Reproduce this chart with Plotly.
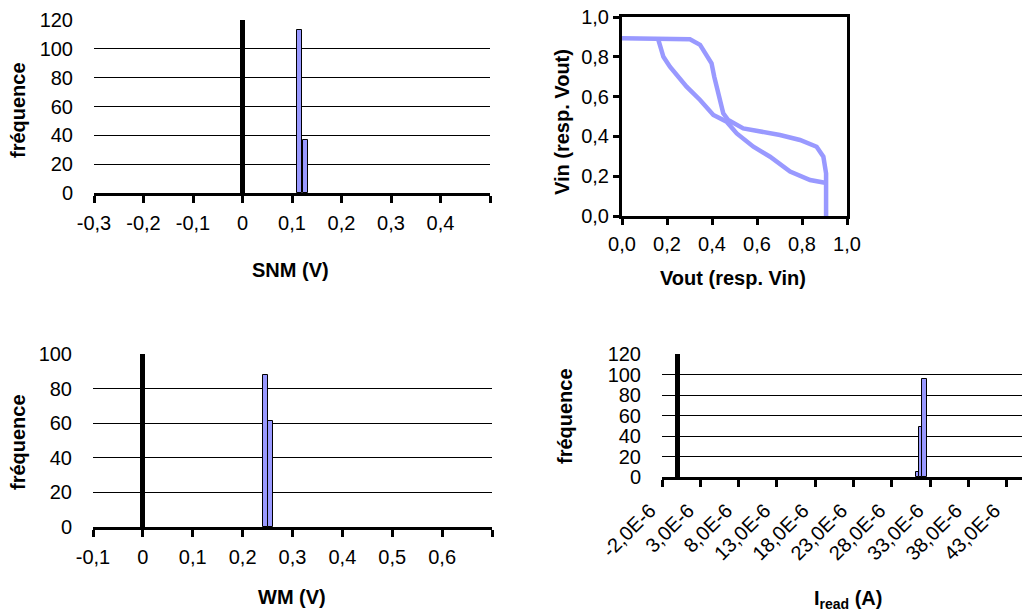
import plotly.graph_objects as go

# The page body has an 8px margin, so the figure is sized to the remaining view
OFF = 8
W, H = 1030 - OFF, 612 - OFF

# ---------------- data ----------------
# SNM histogram
snm_bins = [0.1155, 0.1265]
snm_freq = [113, 37]
snm_ticks = [-0.3, -0.2, -0.1, 0.0, 0.1, 0.2, 0.3, 0.4]
snm_ticktext = ["-0,3", "-0,2", "-0,1", "0", "0,1", "0,2", "0,3", "0,4"]
snm_tickmarks = [-0.3, -0.2, -0.1, 0.0, 0.1, 0.2, 0.3, 0.4, 0.5]
freq_ticks_120 = [0, 20, 40, 60, 80, 100, 120]
freq_ticks_100 = [0, 20, 40, 60, 80, 100]

# Butterfly curves
curveA_x = [0.0, 0.302, 0.347, 0.398, 0.41, 0.436, 0.45, 0.472, 0.539, 0.702, 0.791, 0.865, 0.895, 0.907, 0.907]
curveA_y = [0.893, 0.888, 0.86, 0.767, 0.70, 0.566, 0.516, 0.482, 0.44, 0.407, 0.382, 0.348, 0.298, 0.214, 0.0]
curveB_x = [0.161, 0.184, 0.213, 0.287, 0.347, 0.406, 0.465, 0.51, 0.584, 0.658, 0.747, 0.836, 0.902]
curveB_y = [0.888, 0.80, 0.75, 0.65, 0.583, 0.508, 0.474, 0.415, 0.348, 0.298, 0.223, 0.181, 0.167]
vtc_ticks = [0.0, 0.2, 0.4, 0.6, 0.8, 1.0]
vtc_ticktext = ["0,0", "0,2", "0,4", "0,6", "0,8", "1,0"]

# WM histogram
wm_bins = [0.2463, 0.2566]
wm_freq = [88, 61]
wm_ticks = [-0.1, 0.0, 0.1, 0.2, 0.3, 0.4, 0.5, 0.6]
wm_ticktext = ["-0,1", "0", "0,1", "0,2", "0,3", "0,4", "0,5", "0,6"]
wm_tickmarks = [-0.1, 0.0, 0.1, 0.2, 0.3, 0.4, 0.5, 0.6, 0.7]

# Iread histogram
iread_bins = [31.35e-6, 31.76e-6, 32.30e-6]
iread_freq = [5, 49, 96]
iread_ticks = [-2e-6, 3e-6, 8e-6, 13e-6, 18e-6, 23e-6, 28e-6, 33e-6, 38e-6, 43e-6]
iread_ticktext = ["-2,0E-6", "3,0E-6", "8,0E-6", "13,0E-6", "18,0E-6", "23,0E-6",
                  "28,0E-6", "33,0E-6", "38,0E-6", "43,0E-6"]

# ---------------- style ----------------
FONT = "Liberation Sans, Arial, sans-serif"
BAR = "#9999FF"
TF = dict(family=FONT, size=20, color="black")


def px_dom_x(a, b):
    return [max(0.0, (a - OFF) / W), min(1.0, (b - OFF) / W)]


def px_dom_y(top, bottom):
    return [1 - (bottom - OFF) / H, 1 - (top - OFF) / H]


fig = go.Figure()

fig.add_trace(go.Bar(x=snm_bins, y=snm_freq, width=0.0105, marker=dict(color=BAR, line=dict(color="black", width=1)),
                     xaxis="x", yaxis="y"))
fig.add_trace(go.Scatter(x=curveA_x, y=curveA_y, mode="lines", line=dict(color=BAR, width=4.5),
                         xaxis="x2", yaxis="y2"))
fig.add_trace(go.Scatter(x=curveB_x, y=curveB_y, mode="lines", line=dict(color=BAR, width=4.5),
                         xaxis="x2", yaxis="y2"))
fig.add_trace(go.Bar(x=wm_bins, y=wm_freq, width=0.0103, marker=dict(color=BAR, line=dict(color="black", width=1)),
                     xaxis="x3", yaxis="y3"))
fig.add_trace(go.Bar(x=iread_bins, y=iread_freq, width=[0.43e-6, 0.40e-6, 0.69e-6],
                     marker=dict(color=BAR, line=dict(color="black", width=1)),
                     xaxis="x4", yaxis="y4"))


def hist_x(dom, rng, tv, tt, marks=None, **kw):
    d = dict(domain=dom, range=rng, tickvals=tv, ticktext=tt, tickfont=TF,
             showline=True, linecolor="black", linewidth=3,
             ticks="outside", ticklen=7, tickwidth=3, tickcolor="black",
             showgrid=False, zeroline=True, zerolinecolor="black", zerolinewidth=5,
             ticklabelstandoff=3, fixedrange=True, automargin=False, ticklabeloverflow="allow")
    if marks is not None:
        d["minor"] = dict(tickvals=marks, ticks="outside", ticklen=7, tickwidth=3,
                          tickcolor="black", showgrid=False)
    d.update(kw)
    return d


def hist_y(dom, rng, tv, anchor):
    return dict(domain=dom, range=rng, tickvals=tv, tickfont=TF, anchor=anchor,
                showline=False, ticks="outside", ticklen=16, tickcolor="rgba(0,0,0,0)",
                showgrid=True, gridcolor="black", gridwidth=1.3, zeroline=False,
                fixedrange=True, automargin=False, ticklabeloverflow="allow")


fig.update_layout(
    width=W, height=H, autosize=False,
    margin=dict(l=0, r=0, t=0, b=0, pad=0, autoexpand=False),
    paper_bgcolor="white", plot_bgcolor="white",
    showlegend=False, bargap=0,
    font=dict(family=FONT, color="black"),
    xaxis=hist_x(px_dom_x(94, 490), [-0.3, 0.5], snm_ticks, snm_ticktext, snm_tickmarks, anchor="y"),
    yaxis=hist_y(px_dom_y(20, 193), [0, 120], freq_ticks_120, "x"),
    xaxis2=dict(domain=px_dom_x(622, 847), range=[0, 1], tickvals=vtc_ticks, ticktext=vtc_ticktext,
                tickfont=TF, anchor="y2", showline=True, mirror=True, linecolor="black", linewidth=3,
                ticks="outside", ticklen=6, tickwidth=2.5, tickcolor="black",
                showgrid=False, zeroline=False, ticklabelstandoff=2, automargin=False,
                ticklabeloverflow="allow"),
    yaxis2=dict(domain=px_dom_y(17, 216), range=[0, 1], tickvals=vtc_ticks, ticktext=vtc_ticktext,
                tickfont=TF, anchor="x2", showline=True, mirror=True, linecolor="black", linewidth=3,
                ticks="outside", ticklen=6, tickwidth=2.5, tickcolor="black",
                showgrid=False, zeroline=False, ticklabelstandoff=0, automargin=False,
                ticklabeloverflow="allow"),
    xaxis3=hist_x(px_dom_x(93, 492), [-0.1, 0.7], wm_ticks, wm_ticktext, wm_tickmarks, anchor="y3"),
    yaxis3=hist_y(px_dom_y(354, 527), [0, 100], freq_ticks_100, "x3"),
    xaxis4=hist_x(px_dom_x(662, 1030), [-2e-6, 46.05e-6], iread_ticks, iread_ticktext,
                  anchor="y4", tickangle=-45, ticklabelstandoff=4, ticklabelshift=-12),
    yaxis4=hist_y(px_dom_y(354, 477), [0, 120], freq_ticks_120, "x4"),
)

TT = dict(family=FONT, size=20, color="black")


def title(text, x, y, angle=0):
    fig.add_annotation(text=text, x=(x - OFF) / W, y=1 - (y - OFF) / H, xref="paper", yref="paper",
                       showarrow=False, textangle=angle, font=TT, xanchor="center", yanchor="middle")


title("<b>fréquence</b>", 18, 110, -90)
title("<b>SNM (V)</b>", 290, 270)
title("<b>Vin (resp. Vout)</b>", 562, 122, -90)
title("<b>Vout (resp. Vin)</b>", 733, 278)
title("<b>fréquence</b>", 18, 442, -90)
title("<b>WM (V)</b>", 292, 597)
title("<b>fréquence</b>", 565, 416, -90)
title("<b>I<sub>read</sub> (A)</b>", 848, 599)

fig.write_html("out.html")
